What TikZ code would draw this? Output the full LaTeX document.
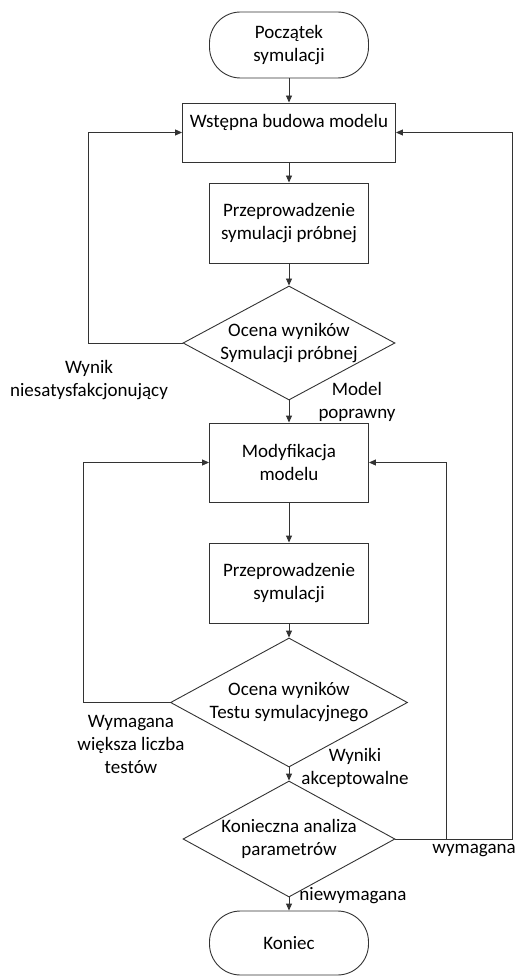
\documentclass[tikz,border=0pt]{standalone}
\usepackage{fontspec}
\setmainfont{Carlito}
\usetikzlibrary{shapes.geometric,arrows.meta}
\begin{document}
\begin{tikzpicture}[x=1pt,y=-1pt,
    every node/.style={font=\fontsize{19}{23}\selectfont,align=center,inner sep=0pt},
    term/.style={draw,rectangle,rounded corners=31pt,minimum width=159pt},
    proc/.style={draw,rectangle,minimum width=159pt,minimum height=80pt},
    decide/.style={draw,diamond,aspect=1.85},
    arr/.style={->,>={Triangle[length=7pt,width=6pt]}}]
  \useasboundingbox (0,0) rectangle (516,976);
  \begin{scope}[draw=black!80,line width=0.9pt]
    \node[term,minimum height=66pt] (start) at (289,45) {Początek\\symulacji};
    \node[proc,minimum width=213pt,minimum height=59pt] (build) at (289,132.5) {Wstępna budowa modelu\\\mbox{}};
    \node[proc] (trial) at (289,223) {Przeprowadzenie\\symulacji próbnej};
    \node[decide,minimum width=212pt,minimum height=114pt] (evaltrial) at (289,343) {Ocena wyników\\Symulacji próbnej};
    \node[proc,minimum height=79pt] (modify) at (289,462.5) {Modyfikacja\\modelu};
    \node[proc] (run) at (289,583) {Przeprowadzenie\\symulacji};
    \node[decide,minimum width=237pt,minimum height=129pt] (evaltest) at (289,702.5) {Ocena wyników\\Testu symulacyjnego};
    \node[decide,minimum width=212pt,minimum height=116pt] (params) at (289,839) {Konieczna analiza\\parametrów};
    \node[term,minimum height=64pt] (stop) at (289,943) {Koniec};

    \coordinate (leftA) at (88,343);
    \coordinate (leftB) at (83,702.5);
    \coordinate (rightA) at (446,839);
    \coordinate (rightB) at (512,839);

    \draw[arr] (start) -- (build);
    \draw[arr] (build) -- (trial);
    \draw[arr] (trial) -- (evaltrial);
    \draw[arr] (evaltrial) -- (modify);
    \draw[arr] (modify) -- (run);
    \draw[arr] (run) -- (evaltest);
    \draw[arr] (evaltest) -- (params);
    \draw[arr] (params) -- (stop);
    \draw[arr] (evaltrial.west) -- (leftA) |- (build.west);
    \draw[arr] (evaltest.west) -- (leftB) |- (modify.west);
    \draw[arr] (params.east) -- (rightB) |- (build.east);
    \draw[arr] (rightA) |- (modify.east);
  \end{scope}
  \node (lblbad) at (89,380) {Wynik\\niesatysfakcjonujący};
  \node (lblok) at (357,402) {Model\\poprawny};
  \node (lblmore) at (131,744) {Wymagana\\większa liczba\\testów};
  \node (lblaccept) at (355,768) {Wyniki\\akceptowalne};
  \node (lblreq) at (474,851) {wymagana};
  \node (lblnotreq) at (353,896) {niewymagana};
\end{tikzpicture}
\end{document}
